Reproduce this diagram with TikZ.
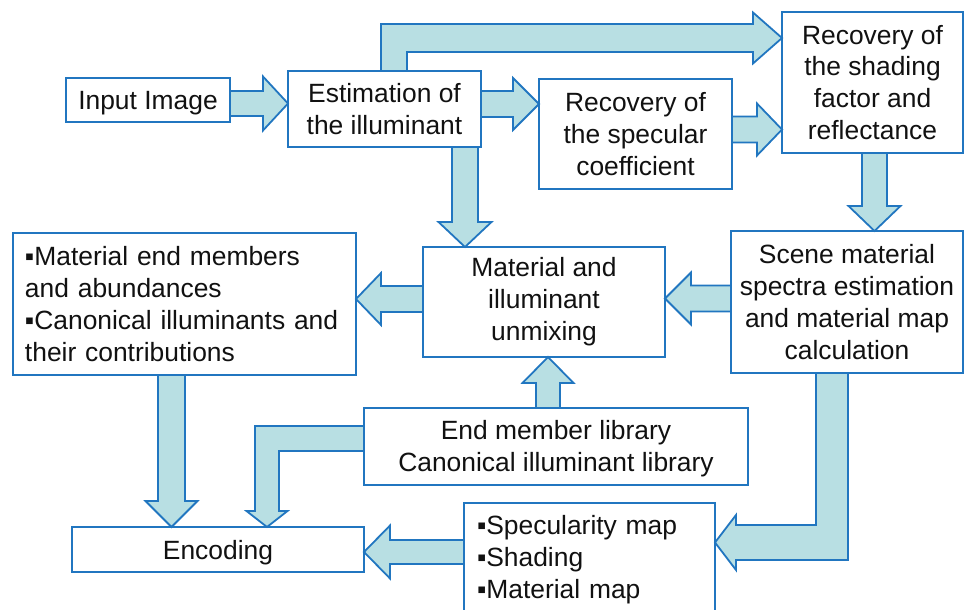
\documentclass[tikz,border=0pt]{standalone}
\usepackage{fontspec}
\setmainfont{Liberation Sans}
\usetikzlibrary{calc}
\definecolor{afill}{RGB}{184,223,227}
\definecolor{aline}{RGB}{33,118,192}
\definecolor{txt}{RGB}{17,17,17}
\tikzset{
 box/.style={draw=aline, line width=1.8bp, fill=white, inner sep=2bp, outer sep=0pt, rectangle, align=center, font=\fontsize{26.5}{32}\selectfont, text=txt},
 barr/.style={fill=afill, draw=aline, line width=1.8bp, line join=miter},
}
\newcommand\blockarr[5]{%
 \path (#1) coordinate (bS);
 \path (#2) coordinate (bA);
 \path ($(bA)!#5!(bS)$) coordinate (bN);
 \filldraw[barr] ($(bS)!#3!90:(bA)$) -- ($(bN)!#3!90:(bA)$) -- ($(bN)!#4!90:(bA)$) -- (bA) -- ($(bN)!#4!-90:(bA)$) -- ($(bN)!#3!-90:(bA)$) -- ($(bS)!#3!-90:(bA)$) -- cycle;}
\begin{document}
\begin{tikzpicture}[x=1bp, y=-1bp]
\useasboundingbox (0,0) rectangle (965,610);
% boxes
\node[box, minimum width=164bp, minimum height=44bp, text depth=0pt] (inp) at (148,100) {Input Image};
\node[box, minimum width=193bp, minimum height=76bp] (est) at (384.5,109) {Estimation of\\the illuminant};
\node[box, minimum width=193bp, minimum height=110bp] (spec) at (635.5,134) {Recovery of\\the specular\\coefficient};
\node[box, minimum width=181bp, minimum height=141bp] (shade) at (872.5,82.5) {Recovery of\\the shading\\factor and\\reflectance};
\node[box, minimum width=232bp, minimum height=142bp] (scene) at (847,302) {Scene material\\spectra estimation\\and material map\\calculation};
\node[box, minimum width=242bp, minimum height=110bp] (mat) at (544,302) {Material and\\illuminant\\unmixing};
\node[box, minimum width=343bp, minimum height=142bp, text width=319bp, inner xsep=12bp, align=left] (res) at (184.5,304) {▪Material end members\\and abundances\\▪Canonical illuminants and\\their contributions};
\node[box, minimum width=384bp, minimum height=77bp] (lib) at (556,446.5) {\rule{0pt}{23.5bp}End member library\\Canonical illuminant library};
\node[box, minimum width=292bp, minimum height=45bp, text depth=0pt] (enc) at (218,549.5) {Encoding};
\node[box, minimum width=251bp, minimum height=114bp, text width=225bp, inner xsep=13bp, align=left] (maps) at (589.5,560) {▪Specularity map\\▪Shading\\▪Material map};
% straight block arrows
\blockarr{$(inp.east)+(0,3.5)$}{est.west |- bS}{12.5bp}{27bp}{25bp}
\blockarr{$(est.east)+(0,-5)$}{spec.west |- bS}{13bp}{26bp}{26bp}
\blockarr{$(spec.east)+(0,-4.5)$}{shade.west |- bS}{13bp}{26bp}{25bp}
\blockarr{$(shade.south)+(2,0)$}{scene.north -| bS}{12.5bp}{26bp}{25bp}
\blockarr{$(est.south)+(80.5,0)$}{mat.north -| bS}{13bp}{26.5bp}{25bp}
\blockarr{$(scene.west)+(0,-3.5)$}{mat.east |- bS}{13bp}{26bp}{26bp}
\blockarr{$(mat.west)+(0,-3)$}{res.east |- bS}{13bp}{26bp}{25bp}
\blockarr{$(res.south)+(-13,0)$}{enc.north -| bS}{13.5bp}{26bp}{26bp}
\blockarr{$(lib.north)+(-8,0)$}{mat.south -| bS}{12bp}{25.5bp}{26bp}
\blockarr{$(maps.west)+(0,-8)$}{enc.east |- bS}{12bp}{26.5bp}{26bp}
% bent arrow: estimation -> shading/reflectance
\coordinate (t0) at ($(est.north)+(9.5,0)$);
\coordinate (tip) at ($(shade.west)+(0,-44.5)$);
\coordinate (tc) at (t0 |- tip);
\filldraw[barr] ($(t0)+(-13,0)$) -- ($(tc)+(-13,-14)$) -- ($(tip)+(-29,-14)$) -- ($(tip)+(-29,-25.5)$) -- (tip)
 -- ($(tip)+(-29,25.5)$) -- ($(tip)+(-29,14)$) -- ($(tc)+(13,14)$) -- ($(t0)+(13,0)$) -- cycle;
% bent arrow: library -> encoding
\coordinate (l0) at ($(lib.west)+(0,-8)$);
\coordinate (l1) at ($(enc.north)+(49,0)$);
\coordinate (lc) at (l1 |- l0);
\filldraw[barr] ($(l0)+(0,-12.5)$) -- ($(lc)+(-12,-12.5)$) -- ($(l1)+(-12,-16)$) -- ($(l1)+(-20.5,-16)$) -- (l1)
 -- ($(l1)+(20.5,-16)$) -- ($(l1)+(12,-16)$) -- ($(lc)+(12,12.5)$) -- ($(l0)+(0,12.5)$) -- cycle;
% bent arrow: scene -> maps
\coordinate (s0) at ($(scene.south)+(-15,0)$);
\coordinate (s1) at ($(maps.east)+(0,-17.5)$);
\coordinate (sc) at (s0 |- s1);
\filldraw[barr] ($(s0)+(-16,0)$) -- ($(sc)+(-16,-17.5)$) -- ($(s1)+(21,-17.5)$) -- ($(s1)+(21,-27.5)$) -- (s1)
 -- ($(s1)+(21,27.5)$) -- ($(s1)+(21,17.5)$) -- ($(sc)+(16,17.5)$) -- ($(s0)+(16,0)$) -- cycle;
\end{tikzpicture}
\end{document}
